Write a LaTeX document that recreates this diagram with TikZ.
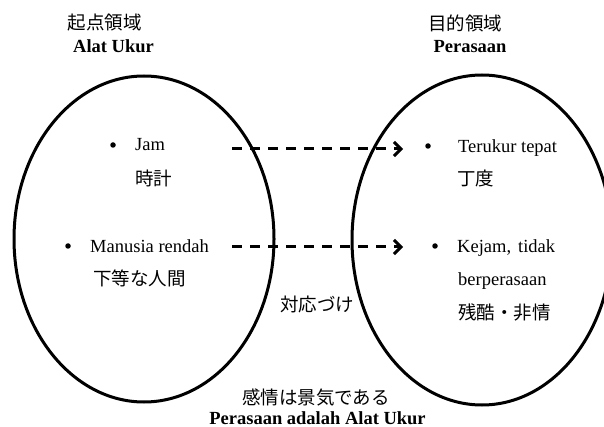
\documentclass[tikz,border=0pt]{standalone}
\usepackage{fontspec}
\setmainfont{Liberation Serif}
\newfontfamily\jp{Noto Sans CJK JP}
\usetikzlibrary{shapes.geometric,arrows.meta}
\begin{document}
\begin{tikzpicture}[x=1pt,y=-1pt,
  txt/.style={inner sep=0pt, font=\fontsize{18.5}{22}\selectfont},
  jtxt/.style={inner sep=0pt, font=\fontsize{18.5}{22}\selectfont\jp},
  btxt/.style={inner sep=0pt, font=\fontsize{18.5}{22}\selectfont\bfseries},
  regionoval/.style={draw, ellipse, line width=3pt, inner sep=0pt},
  bul/.style={circle, fill, inner sep=0pt, minimum size=5.5pt},
  maparrow/.style={line width=3pt, dash pattern=on 10pt off 8pt, -{Straight Barb[length=7pt,width=14pt]}}
]
\useasboundingbox (0,0) rectangle (604,427);
\clip (0,0) rectangle (604,427);

% domains
\node[regionoval, minimum width=260pt, minimum height=326pt] (src) at (144,239) {};
\node[regionoval, minimum width=260pt, minimum height=330pt] (tgt) at (482,240) {};

% headings
\node[jtxt] (srcj) at (104.5,23) {起点領域};
\node[btxt, anchor=base] (srci) at (113.5,53) {Alat Ukur};
\node[jtxt] (tgtj) at (465,23) {目的領域};
\node[btxt, anchor=base] (tgti) at (470,53) {Perasaan};

% source items
\node[bul] (b1) at (113,145) {};
\node[txt, anchor=base west] (jam) at (135,151) {Jam};
\node[jtxt, anchor=west] (jamj) at (135,178) {時計};
\node[bul] (b2) at (68,246) {};
\node[txt, anchor=base west] (man) at (90,252.5) {Manusia rendah};
\node[jtxt, anchor=west] (manj) at (93,278) {下等な人間};

% target items
\node[bul] (b3) at (428,146) {};
\node[txt, anchor=base west] (ter) at (458,152.5) {Terukur tepat};
\node[jtxt, anchor=west] (terj) at (457,178) {丁度};
\node[bul] (b4) at (435,246) {};
\node[txt, anchor=base west] (kej) at (457,252.5) {Kejam,\hspace{7pt}tidak};
\node[txt, anchor=base west] (ber) at (458,285) {berperasaan};
\node[jtxt, anchor=west] (kejj) at (458,312) {残酷・非情};

% mapping arrows
\coordinate (a1s) at (232,149);
\coordinate (a1e) at (403,149);
\coordinate (a2s) at (232,247);
\coordinate (a2e) at (403,247);
\draw[maparrow] (a1s) -- (a1e);
\draw[maparrow] (a2s) -- (a2e);

\node[jtxt, anchor=west] (map) at (280,304) {対応づけ};

% caption
\node[jtxt] (capj) at (316,397) {感情は景気である};
\node[btxt, anchor=base] (capi) at (317.5,424) {Perasaan adalah Alat Ukur};
\end{tikzpicture}
\end{document}
